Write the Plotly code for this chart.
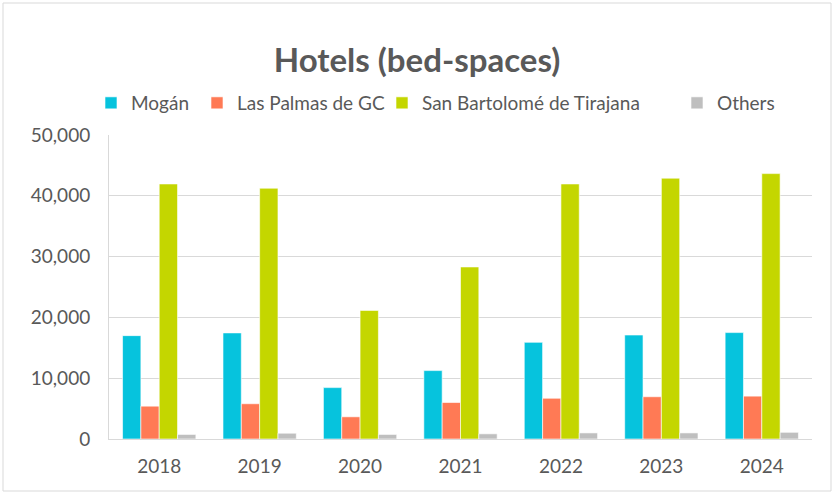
import plotly.graph_objects as go

years = ["2018", "2019", "2020", "2021", "2022", "2023", "2024"]
mogan = [17000, 17450, 8450, 11250, 15900, 17100, 17500]
las_palmas = [5400, 5800, 3650, 6000, 6700, 6950, 7050]
san_bartolome = [41950, 41250, 21150, 28300, 41950, 42900, 43650]
others = [750, 950, 750, 850, 1000, 1000, 1100]

series_names = ["Mogán", "Las Palmas de GC", "San Bartolomé de Tirajana", "Others"]
series_values = [mogan, las_palmas, san_bartolome, others]
series_colors = ["#06C3DD", "#FF7A55", "#C4D600", "#BFBFBF"]

W, H = 834, 493
L, R, T, B = 109, 22, 135, 54
font_family = "Lato, Open Sans, sans-serif"
grey = "#595959"

# legend text start positions (px) in the reference
legend_text_x = [132, 238, 423, 718]
legend_y_px = 103

fig = go.Figure()
legend_layouts = {}
for i, (name, vals, col) in enumerate(zip(series_names, series_values, series_colors)):
    lg = "legend" if i == 0 else f"legend{i + 1}"
    fig.add_trace(go.Bar(
        x=years, y=vals, name=name, legend=lg,
        marker=dict(color=col, line=dict(color="white", width=0.6)),
    ))
    legend_layouts[lg] = dict(
        orientation="h", xref="container", yref="container",
        x=(legend_text_x[i] - 41) / W, xanchor="left",
        y=1 - legend_y_px / H, yanchor="middle",
        font=dict(family=font_family, size=19, color=grey),
        bgcolor="rgba(0,0,0,0)", borderwidth=0, itemclick=False,
    )

fig.update_layout(
    width=W, height=H,
    barmode="group", bargap=0.27, bargroupgap=0,
    paper_bgcolor="white", plot_bgcolor="white",
    margin=dict(l=L, r=R, t=T, b=B, autoexpand=False),
    title=dict(text="<b>Hotels (bed-spaces)</b>", x=0.5, xanchor="center",
               xref="container", yref="container",
               y=1 - 60 / H, yanchor="middle",
               font=dict(family=font_family, size=33, color=grey)),
    font=dict(family=font_family, color=grey),
    showlegend=True,
    **legend_layouts,
)
fig.update_yaxes(range=[0, 50000], dtick=10000, tickformat=",", showgrid=True,
                 gridcolor="#D9D9D9", gridwidth=1, zeroline=False,
                 showline=True, linecolor="#D9D9D9", automargin=False,
                 tickfont=dict(family=font_family, size=19, color=grey),
                 ticks="", ticklabelstandoff=14)
fig.update_xaxes(showline=True, linecolor="#D9D9D9", linewidth=1, automargin=False,
                 tickfont=dict(family=font_family, size=19, color=grey),
                 ticks="", ticklabelstandoff=10)

pw, ph = W - L - R, H - T - B
fig.add_shape(type="rect", xref="paper", yref="paper",
              x0=(3 - L) / pw, x1=(831 - L) / pw,
              y0=((H - B) - 491) / ph, y1=((H - B) - 3) / ph,
              line=dict(color="#D9D9D9", width=1), fillcolor="rgba(0,0,0,0)", layer="below")

fig.write_html("out.html", config={"displayModeBar": False},
               post_script="document.body.style.margin='0';document.body.style.overflow='hidden';")
